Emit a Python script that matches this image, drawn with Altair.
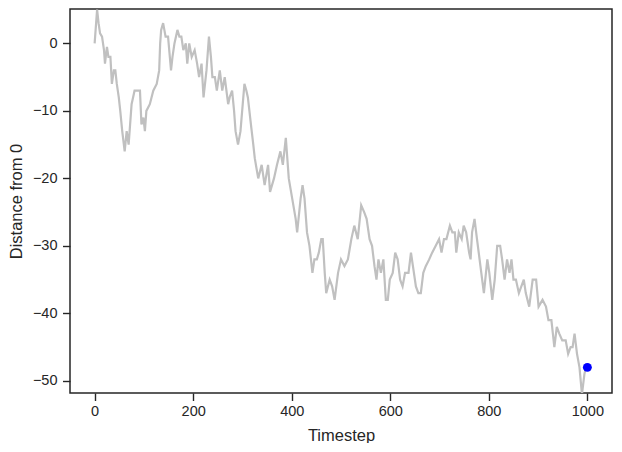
import altair as alt
import pandas as pd

# Random-walk trace (timestep, distance from 0)
steps = [0, 3, 5, 8, 11, 15, 19, 21, 25, 28, 32, 35, 39, 42, 45, 49, 52, 56, 61, 65,
         69, 72, 75, 78, 81, 86, 92, 95, 99, 102, 105, 112, 119, 126, 131, 133, 135, 139, 144, 149,
         155, 158, 162, 168, 172, 176, 180, 185, 188, 192, 197, 203, 208, 212, 217, 221, 227, 232, 236, 239,
         244, 248, 254, 259, 264, 271, 274, 279, 283, 286, 291, 296, 304, 308, 311, 318, 322, 325, 332, 339,
         345, 352, 356, 364, 370, 377, 382, 388, 394, 401, 408, 411, 418, 422, 426, 431, 436, 442, 446, 451,
         455, 460, 463, 467, 470, 477, 482, 487, 494, 500, 507, 514, 521, 527, 534, 541, 547, 552, 558, 563,
         568, 572, 576, 581, 586, 591, 595, 599, 605, 610, 615, 620, 625, 630, 637, 642, 646, 652, 657, 662,
         667, 672, 679, 685, 692, 699, 704, 709, 714, 721, 726, 731, 734, 739, 745, 749, 754, 760, 763, 766,
         771, 776, 783, 790, 797, 801, 807, 812, 817, 823, 827, 832, 837, 842, 846, 850, 855, 861, 866, 871,
         875, 882, 889, 896, 901, 909, 916, 921, 927, 933, 938, 943, 949, 956, 961, 966, 970, 974, 979, 984,
         989, 994, 997, 1000]
values = [0, 3, 5, 3, 1.5, 1, -1, -3, -0.5, -2, -2, -6, -4, -4, -6, -8, -10, -13, -16, -13,
          -15, -12, -9, -8, -7, -7, -7, -12, -11, -13, -10, -9, -7, -6, -4, 0, 2, 3, 1, 1,
          -4, -2, 0, 2, 1, 1, -1, 0, -3, 0, -2, -1, -3, -5, -3, -8, -4, 1, -2, -5,
          -5, -7, -4, -7, -5, -9, -8, -7, -10, -13, -15, -13, -6, -7, -8, -12.5, -15, -17, -20, -18,
          -21, -18, -22, -20, -18, -16, -18, -14, -20, -23, -26, -28, -23, -21, -23, -28, -30, -34, -32, -32,
          -31, -29, -29, -34, -37, -35, -36, -38, -34, -32, -33, -32, -29, -27, -29, -24, -25, -26, -29, -30,
          -33, -35, -32, -34, -32, -38, -38, -35, -34, -31, -32, -35, -36, -34, -34, -31, -33, -36, -37, -37,
          -34, -33, -32, -31, -30, -29, -31, -29, -29, -27, -28, -28, -31, -28, -29, -27, -28, -31, -32, -28,
          -26, -29, -33, -37, -32, -34, -38, -35, -30, -30, -32, -35, -32, -34, -32, -35, -35, -37, -36, -35,
          -37, -39, -35, -35, -39, -38, -39, -41, -41, -45, -42, -43, -44, -44, -46, -45, -45, -43, -46, -48,
          -52, -49, -48, -48]

final_step = [1000]
final_value = [-48]

x_ticks = [0, 200, 400, 600, 800, 1000]
y_ticks = [-50, -40, -30, -20, -10, 0]

walk = pd.DataFrame({"t": steps, "d": values})
end = pd.DataFrame({"t": final_step, "d": final_value})

dark = "#262626"
font = "Liberation Sans"

xscale = alt.Scale(domain=[-50, 1050], nice=False, zero=False)
yscale = alt.Scale(domain=[-51.8, 5.1], nice=False, zero=False)

xaxis = alt.Axis(title="Timestep", values=x_ticks, format="d", grid=False, domain=False,
                 tickSize=7.5, tickWidth=1.4, tickColor=dark, labelPadding=4,
                 labelFontSize=14.5, labelColor=dark, labelFont=font,
                 titleFontSize=16.5, titleFontWeight="normal", titleColor=dark, titleFont=font,
                 titleBaseline="alphabetic", titleY=47, titleX=271, labelFlush=False)
yaxis = alt.Axis(title="Distance from 0", values=y_ticks, format="d", grid=False, domain=False,
                 tickSize=7.5, tickWidth=1.4, tickColor=dark, labelPadding=5.5,
                 labelFontSize=14.5, labelColor=dark, labelFont=font,
                 titleFontSize=16.5, titleFontWeight="normal", titleColor=dark, titleFont=font,
                 titleAngle=270, titleBaseline="middle", titleAlign="center",
                 titleX=-54, titleY=192, labelFlush=False)

line = alt.Chart(walk).mark_line(color="#c0c0c0", strokeWidth=2.2, clip=True).encode(
    x=alt.X("t:Q", scale=xscale, axis=xaxis),
    y=alt.Y("d:Q", scale=yscale, axis=yaxis),
    order="t:Q",
)

dot = alt.Chart(end).mark_point(filled=True, color="#0000ff", size=80, opacity=1, shape="circle").encode(
    x=alt.X("t:Q", scale=xscale),
    y=alt.Y("d:Q", scale=yscale),
)

chart = (line + dot).properties(
    width=542, height=384,
    background="white",
    autosize=alt.AutoSizeParams(type="none"),
    padding={"left": 62, "top": 1, "right": 2, "bottom": 50},
).configure_view(stroke=dark, strokeWidth=1.5)

chart.save("out.html", embed_options={"renderer": "svg", "actions": False})
